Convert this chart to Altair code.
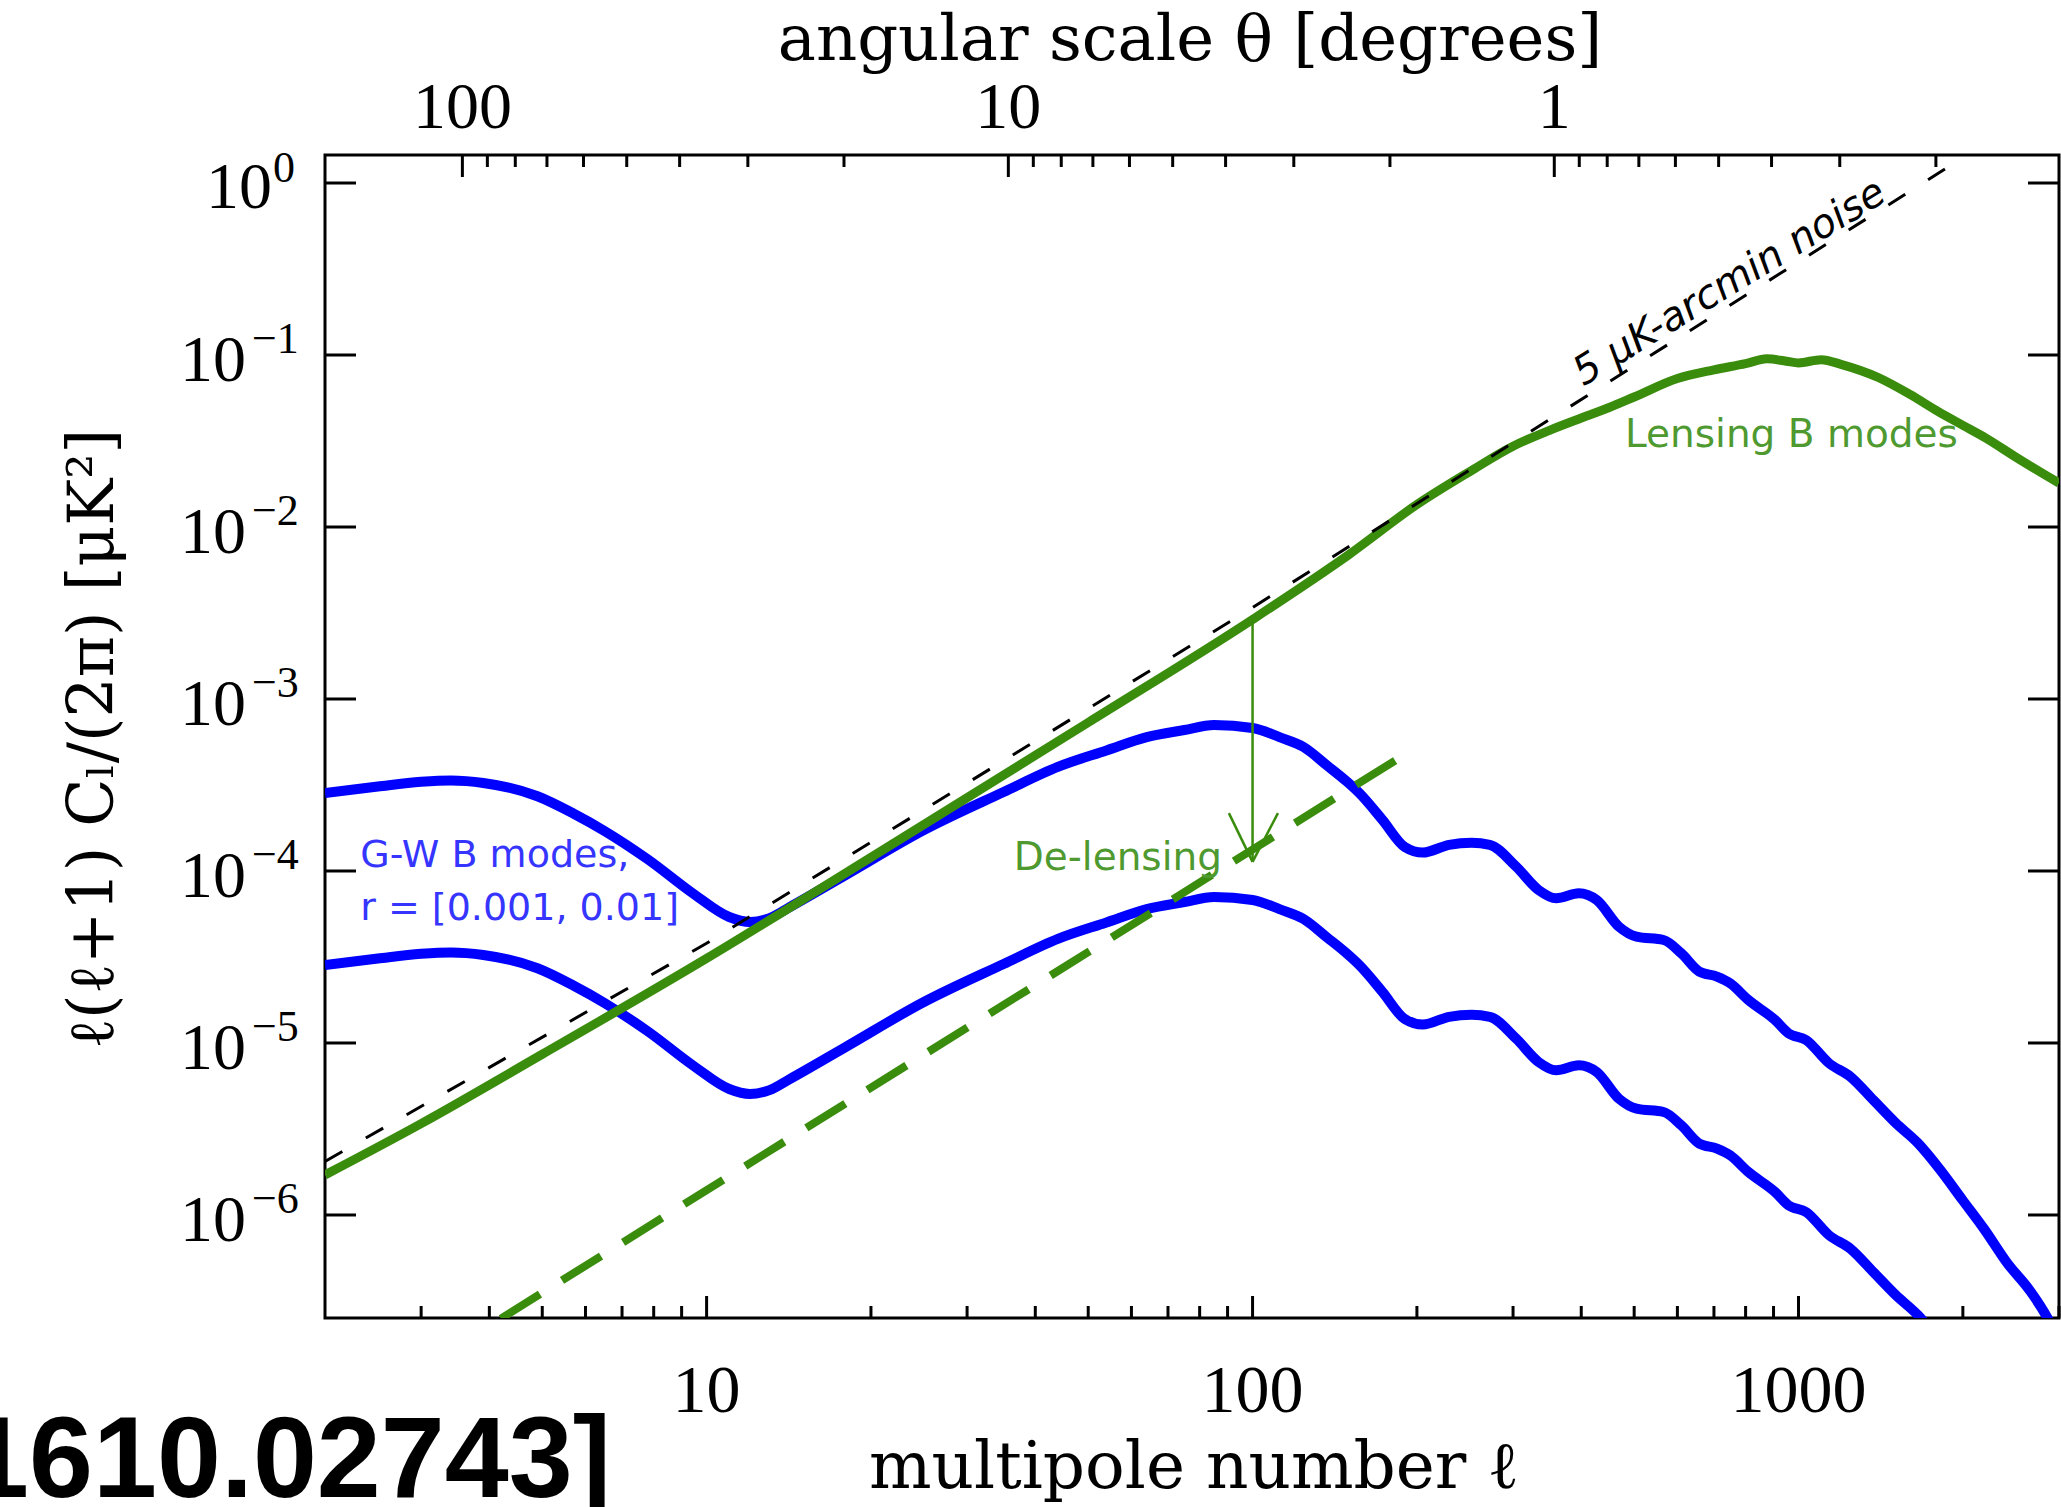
import altair as alt
import pandas as pd

# ---------------- values ----------------
# gravitational-wave (tensor) B modes, r = 0.01 (upper) and r = 0.001 (lower)
ell_tensor = [2.0, 2.5, 3.0, 3.4, 3.9, 4.9, 5.7, 6.5, 7.8, 9.5, 11.0, 12.0, 13.0, 14.2,
              18.0, 25.0, 35.0, 44.0, 54.0, 64.0, 75.0, 85.0, 100.0, 112.0, 124.0, 137.0,
              149.0, 157.0, 173.0, 190.0, 205.0, 229.0, 252.0, 272.0, 304.0, 334.0, 360.0,
              396.0, 427.0, 469.0, 505.0, 566.0, 610.0, 658.0, 709.0, 750.0, 809.0, 906.0,
              958.0, 1033.0, 1136.0, 1247.0, 1371.0, 1506.0, 1654.0, 1818.0, 1998.0, 2194.0,
              2411.0, 2649.0, 2857.0, 2950.0]
gw_r0p01 = [2.84e-4, 3.10e-4, 3.30e-4, 3.36e-4, 3.25e-4, 2.72e-4, 2.16e-4, 1.71e-4, 1.17e-4,
            7.3e-5, 5.4e-5, 5.05e-5, 5.3e-5, 6.17e-5, 9.5e-5, 1.73e-4, 2.88e-4, 4.03e-4,
            5.02e-4, 6.0e-4, 6.6e-4, 7.06e-4, 6.78e-4, 6.0e-4, 5.26e-4, 4.1e-4, 3.3e-4,
            2.83e-4, 1.98e-4, 1.38e-4, 1.28e-4, 1.42e-4, 1.46e-4, 1.42e-4, 1.06e-4, 7.76e-5,
            6.94e-5, 7.42e-5, 6.78e-5, 4.74e-5, 4.15e-5, 3.97e-5, 3.32e-5, 2.60e-5, 2.43e-5,
            2.22e-5, 1.78e-5, 1.36e-5, 1.14e-5, 1.04e-5, 7.65e-6, 6.34e-6, 4.66e-6, 3.43e-6,
            2.62e-6, 1.83e-6, 1.22e-6, 8.18e-7, 5.26e-7, 3.66e-7, 2.52e-7, 2.05e-7]
gw_r0p001 = [2.84e-5, 3.10e-5, 3.30e-5, 3.36e-5, 3.25e-5, 2.72e-5, 2.16e-5, 1.71e-5, 1.17e-5,
             7.3e-6, 5.4e-6, 5.05e-6, 5.3e-6, 6.17e-6, 9.5e-6, 1.73e-5, 2.88e-5, 4.03e-5,
             5.02e-5, 6.0e-5, 6.6e-5, 7.06e-5, 6.78e-5, 6.0e-5, 5.26e-5, 4.1e-5, 3.3e-5,
             2.83e-5, 1.98e-5, 1.38e-5, 1.28e-5, 1.42e-5, 1.46e-5, 1.42e-5, 1.06e-5, 7.76e-6,
             6.94e-6, 7.42e-6, 6.78e-6, 4.74e-6, 4.15e-6, 3.97e-6, 3.32e-6, 2.60e-6, 2.43e-6,
             2.22e-6, 1.78e-6, 1.36e-6, 1.14e-6, 1.04e-6, 7.65e-7, 6.34e-7, 4.66e-7, 3.43e-7,
             2.62e-7, 1.83e-7, 1.22e-7, 8.2e-8, 5.3e-8, 3.7e-8, 2.5e-8, 2.1e-8]

# lensing B modes
ell_lens = [2, 3, 5, 10, 20, 50, 100, 150, 200, 250, 300, 350, 400, 450, 500, 600, 700, 800,
            875, 950, 1000, 1100, 1200, 1400, 1600, 1800, 2000, 2200, 2500, 3000]
lens_bb = [1.71e-6, 3.4e-6, 8.6e-6, 3.1e-5, 1.2e-4, 7.3e-4, 2.9e-3, 6.9e-3, 1.35e-2, 2.1e-2,
           2.95e-2, 3.65e-2, 4.3e-2, 4.95e-2, 5.7e-2, 7.3e-2, 8.2e-2, 8.9e-2, 9.5e-2, 9.2e-2,
           9.0e-2, 9.4e-2, 8.8e-2, 7.4e-2, 5.9e-2, 4.7e-2, 3.9e-2, 3.3e-2, 2.55e-2, 1.8e-2]

# 5 uK-arcmin noise
ell_noise = [2, 10, 100, 1926]
noise_bb = [2.05e-6, 3.8e-5, 3.4e-3, 1.30]

# de-lensed residual (dashed green)
ell_delens = [4.2, 193.0]
delens_bb = [2.5e-7, 4.9e-4]

# de-lensing arrow at l = 100
arrow_ell = [100.0]
arrow_from = [2.85e-3]
arrow_to = [1.13e-4]
head_ell_a = [90.5, 111.3]
head_v_a = [2.17e-4, 2.17e-4]
head_ell_b = [100.0, 100.0]
head_v_b = [1.13e-4, 1.13e-4]

# axes
x_major = [10, 100, 1000]
x_major_labels = ["10", "100", "1000"]
x_minor = [3, 4, 5, 6, 7, 8, 9, 20, 30, 40, 50, 60, 70, 80, 90,
           200, 300, 400, 500, 600, 700, 800, 900, 2000, 3000]
theta_major = [100, 10, 1]
theta_major_labels = ["100", "10", "1"]
theta_minor = [90, 80, 70, 60, 50, 40, 30, 20, 9, 8, 7, 6, 5, 4, 3, 2,
               0.9, 0.8, 0.7, 0.6, 0.5, 0.4, 0.3, 0.2]
THETA_TIMES_ELL = 357.0
y_major = [1.0, 1e-1, 1e-2, 1e-3, 1e-4, 1e-5, 1e-6]
y_exponents = ["0", "\u22121", "\u22122", "\u22123", "\u22124", "\u22125", "\u22126"]

# annotations (anchored in data coordinates)
lbl_lens = ("Lensing B modes", 481.0, 0.0292)
lbl_delens = ("De-lensing", 87.9, 1.01e-4)
lbl_gw = (["G-W B modes,", "r = [0.001, 0.01]"], [2.32, 2.32], [1.055e-4, 5.19e-5])
lbl_noise = ("5 \u03bcK-arcmin noise", 768.0, 0.229)

x_title = "multipole number \u2113"
top_title = "angular scale \u03b8 [degrees]"
y_title = "\u2113(\u2113+1)   C\u2097/(2\u03c0)   [\u03bcK\u00b2]"
ref_label = "[1610.02743]"

# ---------------- styling ----------------
W, H = 1734, 1163
XDOM = [2, 3000]
YDOM = [2.518e-7, 1.455]
BLUE = "#0000ff"
GREEN = "#3a8c0c"
GREEN_TXT = "#4f9a30"
BLUE_TXT = "#3535ff"
SERIF = "DejaVu Serif"
NUMF = "Liberation Serif"
SANS = "DejaVu Sans"

xs = alt.Scale(type="log", domain=XDOM, nice=False)
ys = alt.Scale(type="log", domain=YDOM, nice=False)


def X(f):
    return alt.X(f, type="quantitative", scale=xs, axis=None)


def Y(f):
    return alt.Y(f, type="quantitative", scale=ys, axis=None)


tensor_df = pd.DataFrame({"ell": ell_tensor, "hi": gw_r0p01, "lo": gw_r0p001})
lens_df = pd.DataFrame({"ell": ell_lens, "v": lens_bb})
noise_df = pd.DataFrame({"ell": ell_noise, "v": noise_bb})
delens_df = pd.DataFrame({"ell": ell_delens, "v": delens_bb})
arrow_df = pd.DataFrame({"ell": arrow_ell, "a": arrow_from, "b": arrow_to})
head_df = pd.DataFrame({"ea": head_ell_a, "va": head_v_a, "eb": head_ell_b, "vb": head_v_b})

layers = []

# curves
layers.append(alt.Chart(tensor_df).mark_line(color=BLUE, strokeWidth=10, clip=True, strokeJoin="round",
                                             interpolate="monotone")
              .encode(x=X("ell"), y=Y("hi")))
layers.append(alt.Chart(tensor_df).mark_line(color=BLUE, strokeWidth=10, clip=True, strokeJoin="round",
                                             interpolate="monotone")
              .encode(x=X("ell"), y=Y("lo")))
layers.append(alt.Chart(delens_df).mark_line(color=GREEN, strokeWidth=8, strokeDash=[46, 26], clip=True)
              .encode(x=X("ell"), y=Y("v")))
layers.append(alt.Chart(lens_df).mark_line(color=GREEN, strokeWidth=9, clip=True, strokeJoin="round",
                                           interpolate="monotone")
              .encode(x=X("ell"), y=Y("v")))
layers.append(alt.Chart(noise_df).mark_line(color="black", strokeWidth=3, strokeDash=[20, 27], clip=True)
              .encode(x=X("ell"), y=Y("v")))

# arrow
layers.append(alt.Chart(arrow_df).mark_rule(color=GREEN, strokeWidth=2.5)
              .encode(x=X("ell"), y=Y("a"), y2=alt.Y2("b")))
layers.append(alt.Chart(head_df).mark_rule(color=GREEN, strokeWidth=2.5)
              .encode(x=X("ea"), x2=alt.X2("eb"), y=Y("va"), y2=alt.Y2("vb")))

# annotations
layers.append(alt.Chart(pd.DataFrame({"t": [lbl_lens[0]], "e": [lbl_lens[1]], "v": [lbl_lens[2]]}))
              .mark_text(font=SANS, fontSize=39, color=GREEN_TXT, align="left", baseline="alphabetic")
              .encode(x=X("e"), y=Y("v"), text="t:N"))
layers.append(alt.Chart(pd.DataFrame({"t": [lbl_delens[0]], "e": [lbl_delens[1]], "v": [lbl_delens[2]]}))
              .mark_text(font=SANS, fontSize=39, color=GREEN_TXT, align="right", baseline="alphabetic")
              .encode(x=X("e"), y=Y("v"), text="t:N"))
layers.append(alt.Chart(pd.DataFrame({"t": lbl_gw[0], "e": lbl_gw[1], "v": lbl_gw[2]}))
              .mark_text(font=SANS, fontSize=38, color=BLUE_TXT, align="left", baseline="alphabetic")
              .encode(x=X("e"), y=Y("v"), text="t:N"))
layers.append(alt.Chart(pd.DataFrame({"t": [lbl_noise[0]], "e": [lbl_noise[1]], "v": [lbl_noise[2]]}))
              .mark_text(font=SANS, fontSize=40, fontStyle="italic", color="black", align="center",
                         baseline="alphabetic", angle=328.5)
              .encode(x=X("e"), y=Y("v"), text="t:N"))

# ticks (inward)
TW = 3
xmaj = alt.Chart(pd.DataFrame({"ell": x_major}))
xmin = alt.Chart(pd.DataFrame({"ell": x_minor}))
layers.append(xmaj.mark_rule(color="black", strokeWidth=TW).encode(x=X("ell"), y=alt.value(H), y2=alt.value(H - 22)))
layers.append(xmin.mark_rule(color="black", strokeWidth=TW).encode(x=X("ell"), y=alt.value(H), y2=alt.value(H - 12)))
tmaj = alt.Chart(pd.DataFrame({"theta": theta_major, "lab": theta_major_labels})).transform_calculate(
    ell=f"{THETA_TIMES_ELL} / datum.theta")
tmin = alt.Chart(pd.DataFrame({"theta": theta_minor})).transform_calculate(
    ell=f"{THETA_TIMES_ELL} / datum.theta")
layers.append(tmaj.mark_rule(color="black", strokeWidth=TW).encode(x=X("ell:Q"), y=alt.value(0), y2=alt.value(22)))
layers.append(tmin.mark_rule(color="black", strokeWidth=TW).encode(x=X("ell:Q"), y=alt.value(0), y2=alt.value(12)))
ydf = pd.DataFrame({"v": y_major, "exp": y_exponents})
ymaj = alt.Chart(ydf)
layers.append(ymaj.mark_rule(color="black", strokeWidth=TW).encode(y=Y("v"), x=alt.value(0), x2=alt.value(31)))
layers.append(ymaj.mark_rule(color="black", strokeWidth=TW).encode(y=Y("v"), x=alt.value(W), x2=alt.value(W - 31)))

# tick labels
layers.append(alt.Chart(pd.DataFrame({"ell": x_major, "lab": x_major_labels}))
              .mark_text(font=NUMF, fontSize=68, align="center", baseline="alphabetic", color="black")
              .encode(x=X("ell"), y=alt.value(H + 94), text="lab:N"))
layers.append(tmaj.mark_text(font=NUMF, fontSize=66, align="center", baseline="alphabetic", color="black")
              .encode(x=X("ell:Q"), y=alt.value(-27), text="lab:N"))
neg = ymaj.transform_filter("datum.v < 0.5")
one = ymaj.transform_filter("datum.v > 0.5")
layers.append(neg.mark_text(font=NUMF, fontSize=66, align="right", baseline="alphabetic", dy=26, color="black")
              .encode(y=Y("v"), x=alt.value(-79), text=alt.value("10")))
layers.append(neg.mark_text(font=NUMF, fontSize=44, align="left", baseline="alphabetic", dy=-2, color="black")
              .encode(y=Y("v"), x=alt.value(-73), text="exp:N"))
layers.append(one.mark_text(font=NUMF, fontSize=66, align="right", baseline="alphabetic", dy=25, color="black")
              .encode(y=Y("v"), x=alt.value(-53), text=alt.value("10")))
layers.append(one.mark_text(font=NUMF, fontSize=44, align="left", baseline="alphabetic", dy=-1, color="black")
              .encode(y=Y("v"), x=alt.value(-52), text="exp:N"))

# titles
single = lambda s: alt.Chart(pd.DataFrame({"t": [s]}))
layers.append(single(x_title).mark_text(font=SERIF, fontSize=66, align="center", baseline="alphabetic", color="black")
              .encode(x=alt.value(869), y=alt.value(1333), text="t:N"))
layers.append(single(top_title).mark_text(font=SERIF, fontSize=64, align="center", baseline="alphabetic", color="black")
              .encode(x=alt.value(865), y=alt.value(-95), text="t:N"))
layers.append(single(y_title).mark_text(font=SERIF, fontSize=63, align="center", baseline="alphabetic",
                                        angle=270, color="black")
              .encode(x=alt.value(-212), y=alt.value(584), text="t:N"))
layers.append(single(ref_label).mark_text(font="Liberation Sans", fontWeight="bold", fontSize=115,
                                          align="right", baseline="alphabetic", color="black")
              .encode(x=alt.value(286), y=alt.value(1342), text="t:N"))

chart = alt.layer(*layers).properties(
    width=W, height=H,
    padding={"left": 325, "top": 155, "right": 2, "bottom": 189},
    autosize=alt.AutoSizeParams(type="none"),
    background="white",
).configure_view(stroke="black", strokeWidth=3)

chart.save("out.html", embed_options={"renderer": "svg", "actions": False})
